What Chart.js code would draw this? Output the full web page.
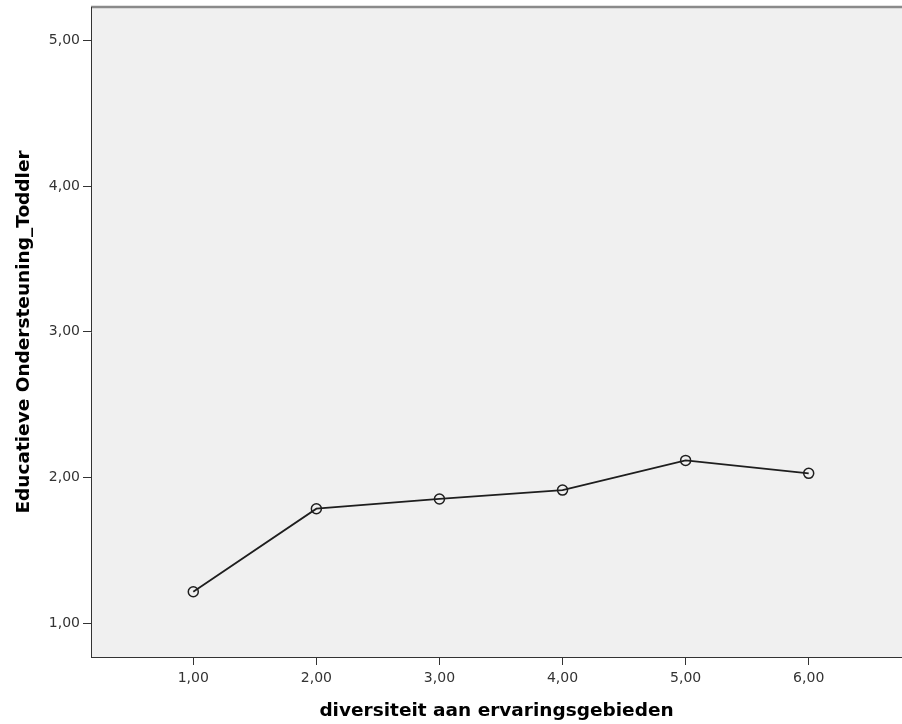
<!DOCTYPE html>
<html>
<head>
<meta charset="utf-8">
<script src="https://cdn.jsdelivr.net/npm/chart.js@4/dist/chart.umd.min.js"></script>
<style>
  html, body { margin: 0; padding: 0; background: #fff; }
  canvas { display: block; }
</style>
</head>
<body>
<canvas id="chart" width="902" height="724"></canvas>
<script>
// diversiteit aan ervaringsgebieden (x) vs mean Educatieve Ondersteuning_Toddler (y)
const categories = [1, 2, 3, 4, 5, 6];
const meanValues = [1.215, 1.785, 1.852, 1.913, 2.117, 2.028];
const xTickValues = [1, 2, 3, 4, 5, 6];
const yTickValues = [1, 2, 3, 4, 5];
const xTitle = 'diversiteit aan ervaringsgebieden';
const yTitle = 'Educatieve Ondersteuning_Toddler';

// numbers shown with a decimal comma, two places
const fmt = v => v.toFixed(2).replace('.', ',');

// grey plot background with the darker band on top
const plotBackground = {
  id: 'plotBackground',
  beforeDraw(chart) {
    const { ctx, chartArea: a } = chart;
    ctx.save();
    ctx.fillStyle = '#f0f0f0';
    ctx.fillRect(a.left, a.top, a.right - a.left, a.bottom - a.top);
    ctx.strokeStyle = '#8a8a8a';
    ctx.lineWidth = 2.5;
    ctx.beginPath();
    ctx.moveTo(a.left, a.top);
    ctx.lineTo(a.right, a.top);
    ctx.stroke();
    ctx.restore();
  }
};

const tickFont = { family: 'DejaVu Sans', size: 14 };
const titleFont = { family: 'DejaVu Sans', size: 18.5, weight: 'bold' };

new Chart(document.getElementById('chart'), {
  type: 'line',
  data: {
    datasets: [{
      data: categories.map((x, i) => ({ x, y: meanValues[i] })),
      borderColor: '#1e1e1e',
      borderWidth: 1.8,
      tension: 0,
      fill: false,
      pointRadius: 5,
      pointBorderWidth: 1.5,
      pointBorderColor: '#1e1e1e',
      pointBackgroundColor: 'transparent',
      pointStyle: 'circle'
    }]
  },
  options: {
    responsive: false,
    animation: false,
    devicePixelRatio: 1,
    layout: { autoPadding: false, padding: { top: 7, right: 0, left: 0, bottom: 0 } },
    plugins: {
      legend: { display: false },
      tooltip: { enabled: false }
    },
    scales: {
      x: {
        type: 'linear',
        position: 'bottom',
        min: 0.169,
        max: 6.758,
        afterBuildTicks: s => { s.ticks = xTickValues.map(v => ({ value: v })); },
        afterFit: s => { s.height = 67; s.paddingLeft = 0; s.paddingRight = 0; },
        grid: { drawOnChartArea: false, drawTicks: true, tickLength: 8, color: '#333' },
        border: { display: true, color: '#333', width: 1 },
        ticks: { font: tickFont, color: '#333', padding: 5, maxRotation: 0, callback: v => fmt(v) },
        title: { display: true, text: xTitle, font: titleFont, color: '#000', padding: { top: 0, bottom: 2 } }
      },
      y: {
        type: 'linear',
        position: 'left',
        min: 0.7665,
        max: 5.231,
        afterBuildTicks: s => { s.ticks = yTickValues.map(v => ({ value: v })); },
        afterFit: s => { s.width = 91; s.paddingTop = 0; s.paddingBottom = 0; },
        grid: { drawOnChartArea: false, drawTicks: true, tickLength: 8, color: '#333' },
        border: { display: true, color: '#333', width: 1 },
        ticks: { font: tickFont, color: '#333', padding: 3, callback: v => fmt(v) },
        title: { display: true, text: yTitle, font: titleFont, color: '#000', padding: { top: 13, bottom: 0 } }
      }
    }
  },
  plugins: [plotBackground]
});
</script>
</body>
</html>
